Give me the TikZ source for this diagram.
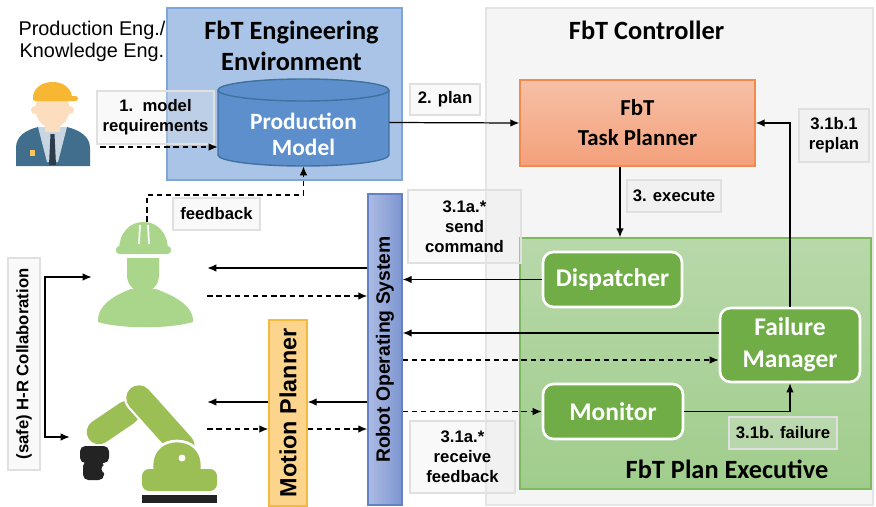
\documentclass[tikz,border=0pt]{standalone}
\usepackage{fontspec}
\setmainfont{Liberation Sans}
\newfontfamily\calibri{Carlito}
\usepackage{graphicx}
\usepackage{xcolor}
\usetikzlibrary{arrows.meta,positioning,calc}

\definecolor{ctrlgray}{RGB}{245,245,245}
\definecolor{envblue}{RGB}{169,196,230}
\definecolor{envline}{RGB}{125,165,215}
\definecolor{cylblue}{RGB}{93,143,204}
\definecolor{cylline}{RGB}{65,113,160}
\definecolor{planlight}{RGB}{246,192,166}
\definecolor{plandark}{RGB}{244,160,122}
\definecolor{planline}{RGB}{240,140,80}
\definecolor{execlight}{RGB}{184,216,170}
\definecolor{execdark}{RGB}{160,205,140}
\definecolor{execline}{RGB}{125,185,95}
\definecolor{compgreen}{RGB}{112,173,71}
\definecolor{roslight}{RGB}{172,187,228}
\definecolor{rosdark}{RGB}{125,150,208}
\definecolor{rosline}{RGB}{100,130,195}
\definecolor{mpfill}{RGB}{252,212,140}
\definecolor{mpline}{RGB}{245,185,60}
\definecolor{hatorange}{RGB}{247,183,51}
\definecolor{skin}{RGB}{252,222,190}
\definecolor{jacket}{RGB}{64,110,140}
\definecolor{shirt}{RGB}{200,214,226}
\definecolor{tiedark}{RGB}{45,60,75}
\definecolor{workergreen}{RGB}{169,214,138}
\definecolor{robotgreen}{RGB}{155,190,85}
\definecolor{robotdark}{RGB}{35,35,35}

\tikzset{
  panel/.style={draw, line width=0.8pt, inner sep=0pt},
  ctrlpanel/.style={panel, draw=black!10, fill=ctrlgray},
  envpanel/.style={panel, draw=envline, fill=envblue},
  execpanel/.style={panel, draw=execline, top color=execlight, bottom color=execdark},
  title/.style={align=center, font=\calibri\bfseries\fontsize{15}{17.6}\selectfont},
  planner/.style={draw=planline, line width=0.8pt, top color=planlight, bottom color=plandark,
    align=center, font=\calibri\bfseries\fontsize{13}{17}\selectfont},
  comp/.style={draw=white, line width=1.5pt, fill=compgreen, rounded corners=6pt,
    text=white, align=center, font=\calibri\bfseries\fontsize{14.5}{18}\selectfont},
  bar/.style={line width=0.8pt, inner sep=0pt, font=\bfseries},
  tag/.style={draw=black!12, line width=0.8pt, fill=black!8, fill opacity=0.3, text opacity=1,
    align=center, inner sep=2pt, font=\fontsize{9.5}{11.3}\selectfont\bfseries},
  iconbox/.style={inner sep=0pt},
  arr/.style={-{Latex[length=1.8mm,width=1.5mm]}, line width=0.7pt},
  darr/.style={arr, dash pattern=on 3pt off 2.2pt},
  dbl/.style={{Latex[length=1.8mm,width=1.5mm]}-{Latex[length=1.8mm,width=1.5mm]}, line width=0.7pt}
}

\begin{document}
\begin{tikzpicture}[x=0.02cm, y=-0.02cm]
\useasboundingbox (0,0) rectangle (876,507);

% background panels
\node[ctrlpanel, minimum width=7.74cm, minimum height=9.94cm] (ctrl) at (679.5,256.5) {};
\node[envpanel, minimum width=4.7cm, minimum height=3.44cm] (env) at (284.5,94) {};
\node[execpanel, minimum width=7.02cm, minimum height=5.02cm] (pexec) at (695.5,363.5) {};

\node[title] (envtitle) at (291.5,46) {FbT Engineering\\Environment};
\node[title] (ctrltitle) at (646.5,30) {FbT Controller};
\node[title] (pexectitle) at (727,469) {FbT Plan Executive};

% production model (cylinder)
\fill[cylblue] (218,90) -- (218,155) arc[start angle=180, end angle=360, x radius=1.71cm, y radius=0.22cm]
  -- (389,90) arc[start angle=0, end angle=180, x radius=1.71cm, y radius=0.22cm] -- cycle;
\draw[cylline, line width=0.8pt] (218,90) -- (218,155) arc[start angle=180, end angle=360, x radius=1.71cm, y radius=0.22cm] -- (389,90);
\draw[cylline, line width=0.8pt, fill=cylblue] (303.5,90) ellipse [x radius=1.71cm, y radius=0.22cm];
\node[iconbox, minimum width=3.42cm, minimum height=1.74cm] (model) at (303.5,122.5) {};
\node[text=white, align=center, font=\calibri\bfseries\fontsize{13.3}{14.7}\selectfont]
  (modeltxt) at ([yshift=-0.23cm]model.center) {Production\\Model};

% controller blocks
\node[planner, minimum width=4.7cm, minimum height=1.72cm] (planner) at (637.5,123) {FbT\\Task Planner};
\node[comp, minimum width=2.78cm, minimum height=1.1cm] (disp) at (612.5,279.5) {Dispatcher};
\node[comp, minimum width=2.8cm, minimum height=1.48cm] (fail) at (790,345) {Failure\\Manager};
\node[comp, minimum width=2.8cm, minimum height=1.1cm] (mon) at (613,411.5) {Monitor};

% middleware bars
\node[bar, draw=rosline, left color=roslight, right color=rosdark, minimum width=0.68cm, minimum height=6.22cm,
  font=\fontsize{11}{13}\selectfont\bfseries] (ros) at (385,349.5) {\rotatebox{90}{Robot Operating System}};
\node[bar, draw=mpline, fill=mpfill, minimum width=0.76cm, minimum height=3.72cm,
  font=\fontsize{13.3}{15}\selectfont\bfseries] (mp) at (288,413) {\rotatebox{90}{Motion Planner}};

% people and robot
\node[align=center, font=\fontsize{11.3}{12.5}\selectfont] (roles) at (92,41) {Production Eng./\\Knowledge Eng.};
\node[iconbox, minimum width=1.7cm, minimum height=1.8cm] (engineer) at (57.5,121.5) {};
\node[iconbox, minimum width=2.3cm, minimum height=2.1cm] (worker) at (149.5,274.5) {};
\node[iconbox, minimum width=2.74cm, minimum height=2.5cm] (robot) at (138.5,442.5) {};

% engineer
\fill[jacket] (16,166) -- (16,148) .. controls (16,136) and (26,130) .. (38,127) -- (67,127)
  .. controls (79,130) and (90,136) .. (90,148) -- (90,166) -- cycle;
\fill[shirt] (38,127) -- (67,127) -- (58,162) -- (47,162) -- cycle;
\fill[skin] (45,118) rectangle (60,132);
\fill[skin] (35,110) circle [radius=0.08cm];
\fill[skin] (70,110) circle [radius=0.08cm];
\fill[skin] (52.5,109) ellipse [x radius=0.34cm, y radius=0.38cm];
\fill[tiedark] (50.5,134) -- (54.5,134) -- (56,165) -- (49,165) -- cycle;
\fill[hatorange] (33,100) .. controls (31,76) and (74,76) .. (72,100) -- cycle;
\fill[hatorange, rounded corners=1pt] (33,96) rectangle (78,101);
\fill[hatorange!80!white] (30,150) rectangle (35,156);

% worker
\fill[workergreen] (119,251) .. controls (119,232) and (130,222) .. (143.5,222)
  .. controls (157,222) and (168,232) .. (168,251) -- cycle;
\fill[workergreen, rounded corners=2pt] (116,246) rectangle (171,254);
\draw[white, line width=1pt] (140,225) -- (139,244) (148,225) -- (149,244);
\fill[workergreen] (127,258) -- (159,258) -- (159,275) .. controls (159,285) and (152,292) .. (143,292)
  .. controls (134,292) and (127,285) .. (127,275) -- cycle;
\fill[workergreen] (98,322) .. controls (97,305) and (115,295) .. (131,289) -- (156,289)
  .. controls (172,295) and (194,305) .. (193,322) .. controls (170,329) and (120,329) .. (98,322) -- cycle;

% robot arm
\draw[robotgreen, line width=14pt, line cap=round] (127,413) -- (99,432);
\draw[white, line width=17pt, line cap=round] (139,398) -- (182,446);
\draw[robotgreen, line width=14.5pt, line cap=round] (139,398) -- (182,446);
\filldraw[fill=robotgreen, draw=white, line width=1.5pt] (152,472) -- (152,465)
  .. controls (152,450) and (163,441) .. (177,441) .. controls (191,441) and (202,450) .. (202,465)
  -- (202,472) -- cycle;
\fill[robotgreen, rounded corners=4pt] (142,491) -- (142,469) -- (217,469) -- (217,491) -- cycle;
\fill[white] (182,458) circle [radius=0.07cm];
\fill[robotdark] (142,495) rectangle (217,503);
\fill[robotdark, rounded corners=3pt] (80,446) rectangle (109,463);
\fill[robotdark, rounded corners=3pt] (83,461) rectangle (104,480);
\fill[white] (106,469) circle [radius=0.09cm];
\fill[white] (79,465) circle [radius=0.06cm];

% step labels
\node[tag, minimum width=2.34cm, minimum height=1.06cm] (reqlbl) at (155.5,117.5) {1.\ \ model\\requirements};
\node[tag, minimum width=1.4cm, minimum height=0.62cm] (planlbl) at (445,99.5) {2. plan};
\node[tag, minimum width=1.88cm, minimum height=0.64cm] (execlbl) at (674,196) {3. execute};
\node[tag, minimum width=1.4cm, minimum height=1.06cm] (replanlbl) at (834,135.5) {3.1b.1\\replan};
\node[tag, minimum width=1.74cm, minimum height=0.64cm] (fblbl) at (216.5,214) {feedback};
\node[tag, minimum width=2.26cm, minimum height=1.46cm] (sendlbl) at (464.5,226.5) {3.1a.*\\send\\command};
\node[tag, minimum width=2.1cm, minimum height=1.44cm] (recvlbl) at (462.5,457) {3.1a.*\\receive\\feedback};
\node[tag, minimum width=2.16cm, minimum height=0.64cm] (faillbl) at (783,433) {3.1b. failure};
\node[tag, minimum width=0.64cm, minimum height=4.24cm] (hrlbl) at (24,364) {\rotatebox{90}{(safe) H-R Collaboration}};

% rows used by the connectors
\coordinate (yreq) at (0,147);
\coordinate (yfb) at (0,195);
\coordinate (yw1) at (0,268);
\coordinate (yw2) at (0,296);
\coordinate (yr1) at (0,402);
\coordinate (yr2) at (0,429);
\coordinate (yhr1) at (0,277);
\coordinate (yhr2) at (0,437);
\coordinate (xhr) at (45,0);

% connectors
\draw[darr] (engineer.east |- yreq) -- (model.west |- yreq);
\draw[arr] (model.east) -- (planner.west);
\draw[arr] ([xshift=-0.35cm]planner.south) -- ([xshift=-0.35cm]planner.south |- pexec.north);
\draw[arr] (fail.north) |- (planner.east);
\draw[arr] (mon.east) -| (fail.south);
\draw[arr] (disp.west) -- (disp.west -| ros.east);
\draw[arr] ([yshift=0.24cm]fail.west) -- ([yshift=0.24cm]fail.west -| ros.east);
\draw[darr] ([yshift=-0.3cm]fail.west -| ros.east) -- ([yshift=-0.3cm]fail.west);
\draw[darr] (mon.west -| ros.east) -- (mon.west);

\draw[arr] (ros.west |- yw1) -- (worker.east |- yw1);
\draw[darr] (worker.east |- yw2) -- (ros.west |- yw2);
\draw[arr] (ros.west |- yr1) -- (mp.east |- yr1);
\draw[arr] (mp.west |- yr1) -- (robot.east |- yr1);
\draw[darr] (robot.east |- yr2) -- (mp.west |- yr2);
\draw[darr] (mp.east |- yr2) -- (ros.west |- yr2);

\draw[darr] ([xshift=-0.05cm]worker.north) -- ([xshift=-0.05cm]worker.north |- yfb) -| (model.south);
\draw[dbl] (worker.west |- yhr1) -| (xhr |- yhr2) -- (robot.west |- yhr2);
\end{tikzpicture}
\end{document}
